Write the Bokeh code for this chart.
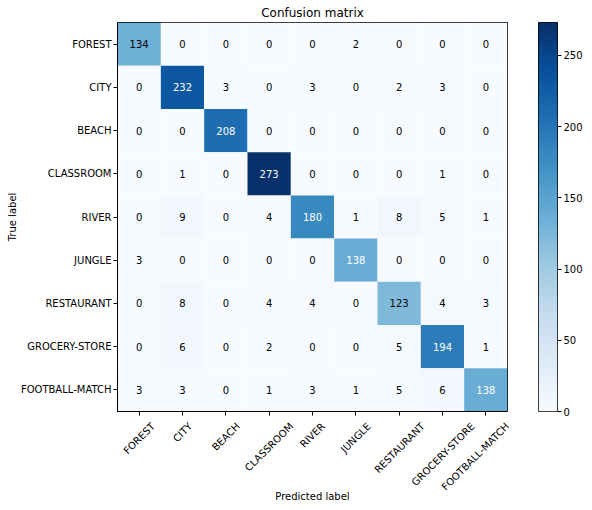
import math
import numpy as np
from bokeh.plotting import figure
from bokeh.layouts import row
from bokeh.models import (ColumnDataSource, LinearColorMapper, FactorRange, FixedTicker,
                          Range1d, LinearAxis)
from bokeh.palettes import Blues256
from bokeh.core.properties import value
from bokeh.embed import file_html
from bokeh.resources import INLINE

classes = ["FOREST", "CITY", "BEACH", "CLASSROOM", "RIVER", "JUNGLE",
           "RESTAURANT", "GROCERY-STORE", "FOOTBALL-MATCH"]

row_forest = [134, 0, 0, 0, 0, 2, 0, 0, 0]
row_city = [0, 232, 3, 0, 3, 0, 2, 3, 0]
row_beach = [0, 0, 208, 0, 0, 0, 0, 0, 0]
row_classroom = [0, 1, 0, 273, 0, 0, 0, 1, 0]
row_river = [0, 9, 0, 4, 180, 1, 8, 5, 1]
row_jungle = [3, 0, 0, 0, 0, 138, 0, 0, 0]
row_restaurant = [0, 8, 0, 4, 4, 0, 123, 4, 3]
row_grocery = [0, 6, 0, 2, 0, 0, 5, 194, 1]
row_football = [3, 3, 0, 1, 3, 1, 5, 6, 138]

colorbar_ticks = [0, 50, 100, 150, 200, 250]

matrix = [row_forest, row_city, row_beach, row_classroom, row_river,
          row_jungle, row_restaurant, row_grocery, row_football]

n = len(classes)
vmax = max(max(r) for r in matrix)
thresh = vmax / 2.0

# predicted class j sits at x = j + 0.5 on a 0..n linear axis
xs, ys, vals, labels, tcolors = [], [], [], [], []
for i, true_lbl in enumerate(classes):
    for j, pred_lbl in enumerate(classes):
        v = matrix[i][j]
        xs.append(j + 0.5)
        ys.append(true_lbl)
        vals.append(v)
        labels.append(str(v))
        tcolors.append("white" if v > thresh else "black")

src = ColumnDataSource(dict(x=xs, y=ys, v=vals, label=labels, tc=tcolors))

palette = list(reversed(Blues256))
mapper = LinearColorMapper(palette=palette, low=0, high=vmax)

FONT = "DejaVu Sans"
FRAME_W, FRAME_H = 390, 389

# DejaVu Sans advance widths (font units / 2048): used to centre the rotated
# tick labels on their ticks as matplotlib does
ADV = {"A": 1401, "B": 1405, "C": 1430, "D": 1577, "E": 1294, "F": 1178, "G": 1587,
       "H": 1540, "I": 604, "J": 604, "K": 1343, "L": 1141, "M": 1767, "N": 1532,
       "O": 1612, "P": 1235, "Q": 1612, "R": 1423, "S": 1300, "T": 1251, "U": 1499,
       "V": 1401, "W": 2025, "X": 1403, "Y": 1251, "Z": 1403, "-": 739}
def text_w(s, size=10):
    return sum(ADV.get(c, 1300) for c in s) / 2048 * size

px_per_unit = FRAME_W / n
centers = [j + 0.5 for j in range(n)]
# labels must stay inside the axis range to be drawn
label_pos = [round(min(j + 0.5 + 0.3536 * text_w(c) / px_per_unit, n - 0.001), 4)
             for j, c in enumerate(classes)]

p = figure(x_range=Range1d(0, n),
           y_range=FactorRange(factors=list(reversed(classes))),
           frame_width=FRAME_W, frame_height=FRAME_H,
           min_border_left=117, min_border_top=0, min_border_bottom=4, min_border_right=8,
           x_axis_location=None,
           output_backend="svg", toolbar_location=None,
           title="Confusion matrix")

p.rect(x="x", y="y", width=1, height=1, source=src,
       fill_color={"field": "v", "transform": mapper}, line_color=None)
p.text(x="x", y="y", text="label", source=src, text_color="tc",
       text_align="center", text_baseline="middle",
       text_font=value(FONT), text_font_size="10px")

p.title.align = "center"
p.title.text_font = FONT
p.title.text_font_size = "12px"
p.title.text_font_style = "normal"
p.title.text_color = "black"
p.title.standoff = 6

p.grid.grid_line_color = None
p.outline_line_color = "black"
p.outline_line_alpha = 1
p.background_fill_color = "white"
p.border_fill_color = "white"

xaxis = LinearAxis(ticker=FixedTicker(ticks=label_pos, minor_ticks=centers),
                   major_label_overrides={pos: c for pos, c in zip(label_pos, classes)},
                   major_label_orientation=math.pi / 4)
p.add_layout(xaxis, "below")
xaxis.major_tick_line_color = None
xaxis.major_tick_out = 0
xaxis.major_tick_in = 0
xaxis.minor_tick_line_color = "black"
xaxis.minor_tick_out = 4
xaxis.minor_tick_in = 0
xaxis.major_label_standoff = 9

yaxis = p.yaxis[0]
yaxis.major_tick_line_color = "black"
yaxis.major_tick_out = 4
yaxis.major_tick_in = 0
yaxis.minor_tick_line_color = None
yaxis.major_label_standoff = 2
yaxis.axis_label_standoff = 0

for ax in (xaxis, yaxis):
    ax.axis_line_color = "black"
    ax.major_label_text_font = FONT
    ax.major_label_text_font_size = "10px"
    ax.major_label_text_color = "black"
    ax.axis_label_text_font = FONT
    ax.axis_label_text_font_size = "10px"
    ax.axis_label_text_font_style = "normal"
    ax.axis_label_text_color = "black"

yaxis.axis_label = "True label"
xaxis.axis_label = "Predicted label"
xaxis.axis_label_standoff = -8

# colour bar as its own small figure
cb = figure(x_range=Range1d(0, 1), y_range=Range1d(0, vmax),
            frame_width=19, frame_height=FRAME_H,
            min_border_left=23, min_border_right=0, min_border_top=14, min_border_bottom=20,
            y_axis_location="right", x_axis_location=None,
            output_backend="svg", toolbar_location=None)
grad = np.linspace(0, vmax, 512).reshape(-1, 1)
cb.image(image=[grad], x=0, y=0, dw=1, dh=vmax, color_mapper=mapper)
cb.grid.grid_line_color = None
cb.outline_line_color = "black"
cb.outline_line_alpha = 1
cb.yaxis.ticker = FixedTicker(ticks=colorbar_ticks)
cb.yaxis.axis_line_color = None
cb.yaxis.major_tick_line_color = "black"
cb.yaxis.major_tick_out = 4
cb.yaxis.major_tick_in = 0
cb.yaxis.minor_tick_line_color = None
cb.yaxis.major_label_standoff = 2
cb.yaxis.major_label_text_font = FONT
cb.yaxis.major_label_text_font_size = "10px"
cb.yaxis.major_label_text_color = "black"

layout = row(p, cb, spacing=0)
open("out.html", "w").write(file_html(layout, INLINE))
